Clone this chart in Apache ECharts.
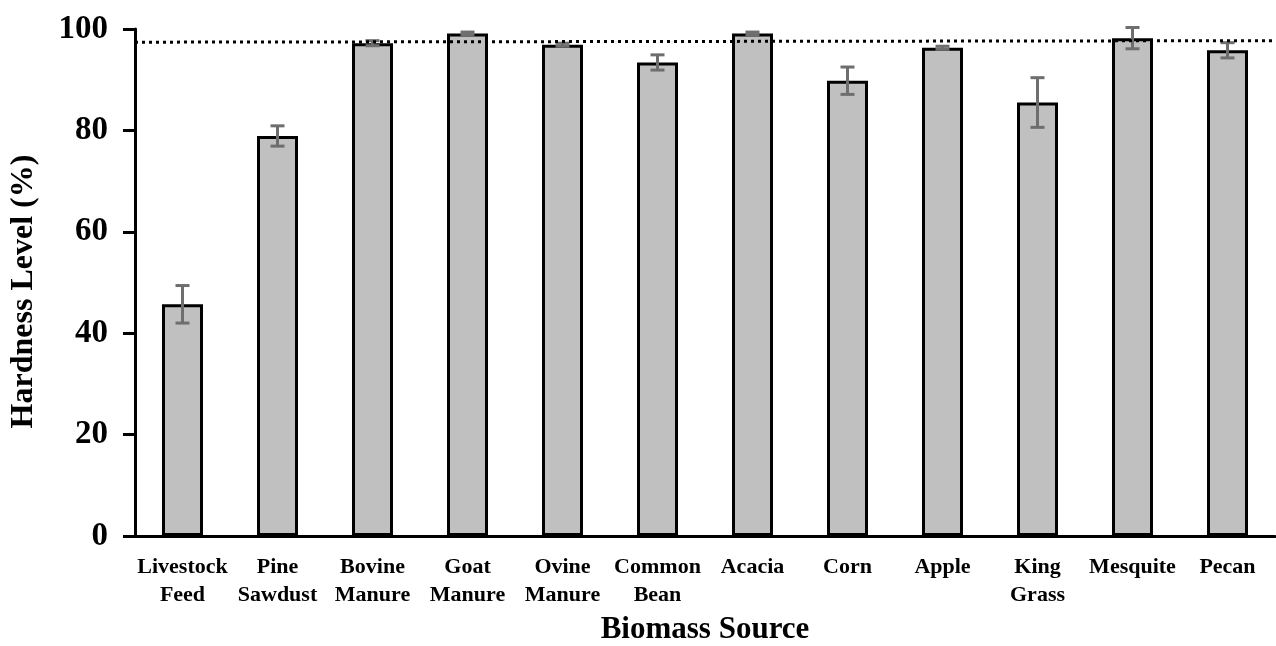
<!DOCTYPE html>
<html>
<head>
<meta charset="utf-8">
<script src="https://cdn.jsdelivr.net/npm/echarts@6/dist/echarts.min.js"></script>
<style>html,body{margin:0;padding:0;background:#fff}#c{width:1276px;height:646px}</style>
</head>
<body>
<div id="c"></div>
<script>
const categories = ['Livestock\nFeed','Pine\nSawdust','Bovine\nManure','Goat\nManure','Ovine\nManure','Common\nBean','Acacia','Corn','Apple','King\nGrass','Mesquite','Pecan'];
const hardness = [45.7, 78.9, 97.2, 99.1, 96.9, 93.4, 99.1, 89.8, 96.3, 85.5, 98.2, 95.8];
const errors = [3.7, 2.0, 0.5, 0.3, 0.3, 1.5, 0.3, 2.7, 0.3, 4.9, 2.1, 1.5];
const refLine = [[0, 97.4], [1, 97.7]];
const yTicks = [0, 20, 40, 60, 80, 100];

const FONT = '"Liberation Serif", "DejaVu Serif", serif';
const chart = echarts.init(document.getElementById('c'));
chart.setOption({
  animation: false,
  backgroundColor: '#fff',
  grid: { left: 135, right: 1, top: 29, bottom: 110, containLabel: false, outerBoundsMode: 'none' },
  xAxis: [{
    type: 'category',
    data: categories,
    axisLine: { lineStyle: { color: '#000', width: 3 } },
    axisTick: { show: false },
    axisLabel: { color: '#000', fontFamily: FONT, fontWeight: 'bold', fontSize: 22, lineHeight: 28, margin: 17, interval: 0 },
    name: 'Biomass Source',
    nameLocation: 'middle',
    nameMoveOverlap: false,
    nameGap: 78,
    nameTextStyle: { color: '#000', fontFamily: FONT, fontWeight: 'bold', fontSize: 31 }
  }, {
    type: 'value', min: 0, max: 1, show: false
  }],
  yAxis: {
    type: 'value',
    min: yTicks[0], max: yTicks[yTicks.length - 1], interval: 20,
    axisLine: { show: true, lineStyle: { color: '#000', width: 3 } },
    axisTick: { show: true, length: 12, lineStyle: { color: '#000', width: 3 } },
    splitLine: { show: false },
    axisLabel: { color: '#000', fontFamily: FONT, fontWeight: 'bold', fontSize: 33, margin: 27 },
    name: 'Hardness Level (%)',
    nameLocation: 'middle',
    nameMoveOverlap: false,
    nameGap: 95,
    nameTextStyle: { color: '#000', fontFamily: FONT, fontWeight: 'bold', fontSize: 32, padding: [0, 18, 0, 0] }
  },
  series: [{
    type: 'bar',
    data: hardness,
    barWidth: 41,
    itemStyle: { color: '#c0c0c0', borderColor: '#000', borderWidth: 3 }
  }, {
    type: 'custom',
    data: hardness.map((v, i) => [i, v, errors[i]]),
    renderItem: function (params, api) {
      const x = api.value(0), v = api.value(1), e = api.value(2);
      const top = api.coord([x, v + e]);
      const bot = api.coord([x, v - e]);
      const hw = 7;
      const style = { stroke: '#6e6e6e', lineWidth: 3 };
      return { type: 'group', children: [
        { type: 'line', shape: { x1: top[0], y1: top[1], x2: bot[0], y2: bot[1] }, style },
        { type: 'line', shape: { x1: top[0] - hw, y1: top[1], x2: top[0] + hw, y2: top[1] }, style },
        { type: 'line', shape: { x1: bot[0] - hw, y1: bot[1], x2: bot[0] + hw, y2: bot[1] }, style }
      ]};
    },
    z: 5
  }, {
    type: 'line',
    xAxisIndex: 1,
    data: refLine,
    symbol: 'none',
    lineStyle: { color: '#000', width: 3, type: [3, 4] },
    z: 6
  }]
});
</script>
</body>
</html>
